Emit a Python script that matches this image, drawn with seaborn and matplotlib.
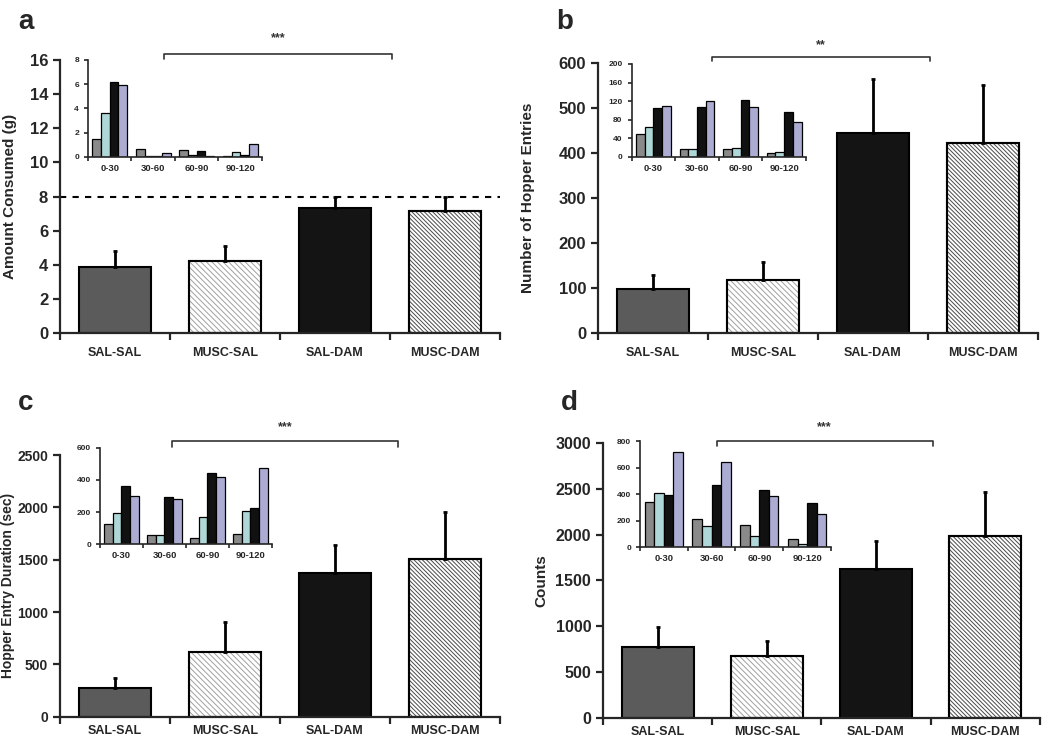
import numpy as np
import pandas as pd
import seaborn as sns
import matplotlib.pyplot as plt
from matplotlib.patches import Rectangle

# main bar groups
groups = ["SAL-SAL", "MUSC-SAL", "SAL-DAM", "MUSC-DAM"]
bins = ["0-30", "30-60", "60-90", "90-120"]

# a: amount consumed (g)
consumed_mean = [3.85, 4.2, 7.3, 7.15]
consumed_sem = [0.95, 0.9, 0.65, 0.85]
consumed_bins = {
    "SAL-SAL": [1.45, 0.65, 0.55, 0.05],
    "MUSC-SAL": [3.6, 0.05, 0.2, 0.4],
    "SAL-DAM": [6.2, 0.1, 0.5, 0.2],
    "MUSC-DAM": [5.9, 0.33, 0.1, 1.1],
}

# b: number of hopper entries
entries_mean = [98, 118, 444, 422]
entries_sem = [30, 40, 120, 130]
entries_bins = {
    "SAL-SAL": [50, 18, 18, 8],
    "MUSC-SAL": [65, 18, 20, 10],
    "SAL-DAM": [105, 108, 122, 97],
    "MUSC-DAM": [110, 120, 108, 75],
}

# c: hopper entry duration (sec)
duration_mean = [275, 620, 1375, 1510]
duration_sem = [95, 290, 265, 450]
duration_bins = {
    "SAL-SAL": [126, 58, 37, 62],
    "MUSC-SAL": [197, 58, 168, 205],
    "SAL-DAM": [362, 296, 440, 225],
    "MUSC-DAM": [300, 280, 415, 475],
}

# d: counts
counts_mean = [775, 675, 1625, 1980]
counts_sem = [215, 160, 300, 490]
counts_bins = {
    "SAL-SAL": [340, 211, 169, 62],
    "MUSC-SAL": [410, 161, 82, 22],
    "SAL-DAM": [392, 472, 435, 330],
    "MUSC-DAM": [720, 641, 385, 250],
}

sns.set_style("ticks")
plt.rcParams["font.family"] = ["Liberation Sans", "DejaVu Sans"]
plt.rcParams["font.weight"] = "bold"
plt.rcParams["hatch.linewidth"] = 0.7

main_fc = ["#5b5b5b", "white", "#141414", "white"]
main_hatch = [None, "\\\\\\\\\\\\", None, "\\\\\\\\\\\\\\\\"]
hatch_col = [None, "#a0a0a0", None, "#4a4a4a"]
inset_pal = ["#8a8a8a", "#a9dede", "#111111", "#a6a6d9"]

fig = plt.figure(figsize=(10.5, 7.39), dpi=100)


def style_axis(ax, lw, ticklen):
    sns.despine(ax=ax)
    for s in ["left", "bottom"]:
        ax.spines[s].set_linewidth(lw)
    ax.set_xlim(-0.5, 3.5)
    ax.set_xticks(np.arange(-0.5, 3.6, 1), minor=True)
    ax.tick_params(axis="x", which="major", length=0)
    ax.tick_params(axis="x", which="minor", length=ticklen, width=lw, direction="out")
    ax.tick_params(axis="y", length=ticklen, width=lw, direction="out")
    ax.set_xlabel("")


def main_panel(rect, means, sems, ylim, yticks, ylabel, letter, label_x, xpad, ysize, lsize=11):
    ax = fig.add_axes(rect)
    sns.barplot(x=groups, y=means, hue=groups, palette=main_fc, width=0.66,
                edgecolor="black", linewidth=1.5, legend=False, ax=ax)
    for p, h, hc in zip(ax.patches, main_hatch, hatch_col):
        if h:
            p.set_hatch(h)
            p.set_edgecolor(hc)
            ax.add_patch(Rectangle(p.get_xy(), p.get_width(), p.get_height(),
                                   fill=False, ec="black", lw=1.5, zorder=p.get_zorder() + 0.1))
    ax.errorbar(range(4), means, yerr=[np.zeros(4), sems], fmt="none", ecolor="black",
                elinewidth=2, capsize=1.5, capthick=2, zorder=1)
    ax.set_ylim(*ylim)
    ax.set_yticks(yticks)
    style_axis(ax, 1.6, 5)
    ax.set_xticks(range(4))
    ax.set_xticklabels(groups, fontsize=9, fontweight="bold")
    ax.tick_params(axis="x", pad=xpad)
    ax.tick_params(axis="y", labelsize=ysize)
    ax.set_ylabel(ylabel, fontsize=lsize, fontweight="bold")
    ax.yaxis.set_label_coords(label_x, 0.5)
    fig.text(rect[0] - 0.04, 0.97 if rect[1] > 0.5 else 0.455, letter,
             fontsize=20, fontweight="bold", ha="left", va="center")
    return ax


def inset_panel(rect, data, ylim, yticks):
    ins = fig.add_axes(rect)
    df = pd.DataFrame([(b, g, data[g][i]) for g in groups for i, b in enumerate(bins)],
                      columns=["bin", "treat", "value"])
    sns.barplot(data=df, x="bin", y="value", hue="treat", hue_order=groups, order=bins,
                palette=inset_pal, width=0.8, edgecolor="black", linewidth=0.9,
                legend=False, ax=ins)
    ins.set_facecolor("none")
    ins.set_ylim(*ylim)
    ins.set_yticks(yticks)
    style_axis(ins, 1.2, 3)
    ins.set_ylabel("")
    ins.tick_params(axis="x", labelsize=6.8, pad=5)
    ins.tick_params(axis="y", labelsize=6)
    for t in ins.get_xticklabels() + ins.get_yticklabels():
        t.set_fontweight("bold")
    return ins


def bracket(ax, x0, x1, y, drop, ty, stars):
    ax.plot([x0, x0, x1, x1], [y - drop, y, y, y - drop], color="#333333", lw=1.2, clip_on=False)
    ax.text((x0 + x1) / 2, ty, stars, ha="center", va="center", fontsize=9,
            fontweight="bold", color="#333333")


# panel a
ax_a = main_panel([0.0571, 0.5494, 0.419, 0.3694], consumed_mean, consumed_sem,
                  (0, 16), range(0, 17, 2), "Amount Consumed (g)", "a", -0.098, 10, 12)
ax_a.axhline(8, color="black", lw=1.5, ls=(0, (3, 3)), zorder=0.5)
bracket(ax_a, 0.45, 2.52, 16.35, 0.3, 17.3, "***")
inset_panel([0.0838, 0.7876, 0.1657, 0.1313], consumed_bins, (0, 8), range(0, 9, 2))

# panel b
ax_b = main_panel([0.5695, 0.5494, 0.419, 0.3653], entries_mean, entries_sem,
                  (0, 600), range(0, 601, 100), "Number of Hopper Entries", "b", -0.143, 10, 12)
bracket(ax_b, 0.54, 2.52, 613, 9, 640, "**")
inset_panel([0.6015, 0.7876, 0.166, 0.1258], entries_bins, (0, 200), range(0, 201, 40))

# panel c
ax_c = main_panel([0.0571, 0.0300, 0.419, 0.3543], duration_mean, duration_sem,
                  (0, 2500), range(0, 2501, 500), "Hopper Entry Duration (sec)", "c",
                  -0.102, 6, 10, lsize=10)
bracket(ax_c, 0.52, 2.57, 2633, 55, 2766, "***")
inset_panel([0.0952, 0.2635, 0.1638, 0.1307], duration_bins, (0, 600), range(0, 601, 200))

# panel d
ax_d = main_panel([0.5743, 0.0290, 0.416, 0.3715], counts_mean, counts_sem,
                  (0, 3000), range(0, 3001, 500), "Counts", "d", -0.126, 6, 11.5)
bracket(ax_d, 0.54, 2.52, 3022, 54, 3174, "***")
inset_panel([0.6095, 0.2594, 0.1819, 0.1438], counts_bins, (0, 800), range(0, 801, 200))

fig.savefig("out.png", dpi=100)
